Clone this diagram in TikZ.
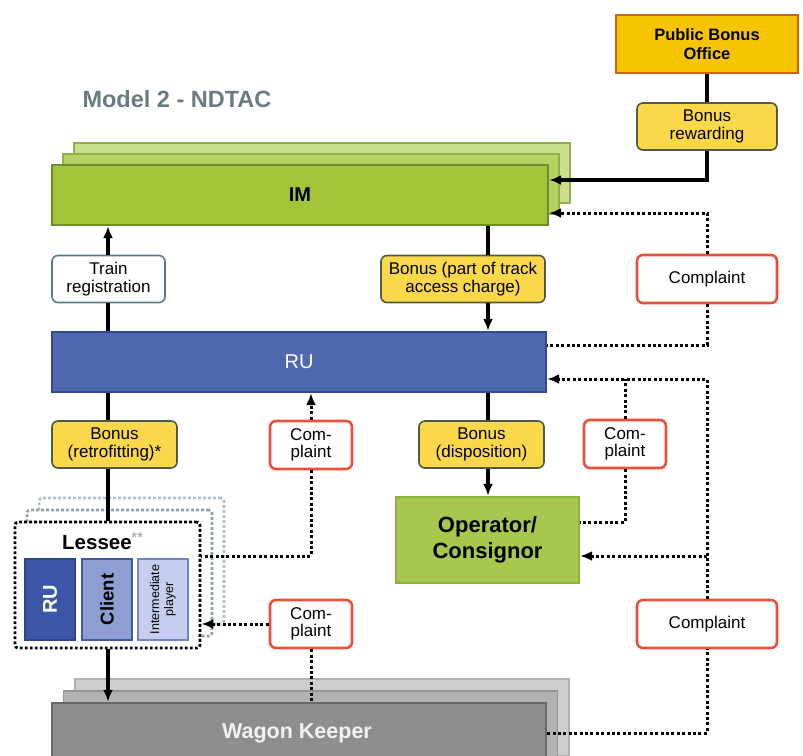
\documentclass[tikz,border=0pt]{standalone}
\usepackage{fontspec}
\setmainfont{Liberation Sans}
\usetikzlibrary{arrows.meta,calc}
\definecolor{imfill}{HTML}{A5C339}
\definecolor{imfillb}{HTML}{B7D164}
\definecolor{imfillc}{HTML}{CADF8E}
\definecolor{imdraw}{HTML}{6E8E2E}
\definecolor{imdrawb}{HTML}{8FB04A}
\definecolor{rufill}{HTML}{4F69B1}
\definecolor{rudraw}{HTML}{304A95}
\definecolor{yel}{HTML}{FAD84A}
\definecolor{yeldraw}{HTML}{4F5A44}
\definecolor{pbofill}{HTML}{F7C500}
\definecolor{pbodraw}{HTML}{C8641A}
\definecolor{opfill}{HTML}{A8C74E}
\definecolor{opdraw}{HTML}{8DB43A}
\definecolor{cpdraw}{HTML}{E8503A}
\definecolor{trdraw}{HTML}{5A7A8A}
\definecolor{wkfill}{HTML}{8E8E8E}
\definecolor{wkdraw}{HTML}{686868}
\definecolor{wkfillb}{HTML}{B2B2B2}
\definecolor{wkfillc}{HTML}{CDCDCD}
\definecolor{lsdraw}{HTML}{8EA0B4}
\definecolor{ruin}{HTML}{3B56A6}
\definecolor{ruindraw}{HTML}{2A4590}
\definecolor{clfill}{HTML}{8E9DD2}
\definecolor{cldraw}{HTML}{3F5BA8}
\definecolor{itfill}{HTML}{C5CEEE}
\definecolor{itdraw}{HTML}{6F86C6}
\definecolor{titlegray}{HTML}{6B7B82}
\begin{document}
\begin{tikzpicture}[x=1pt,y=-1pt,
  box/.style={inner sep=0pt, align=center},
  lbl/.style={box, rounded corners=6pt, line width=1.6pt, font=\fontsize{17}{17.5}\selectfont},
  yelbox/.style={lbl, fill=yel, draw=yeldraw},
  cpbox/.style={lbl, fill=white, draw=cpdraw, line width=2.6pt},
  sline/.style={line width=3.2pt, black},
  sarrow/.style={sline, -{Latex[length=12pt,width=10pt]}},
  dline/.style={line width=3pt, black, dash pattern=on 3pt off 2.4pt},
  darrow/.style={dline, -{Latex[length=12pt,width=10pt]}},
  lsdotted/.style={box, line width=2.8pt, dash pattern=on 2.8pt off 2.2pt, rounded corners=3pt}
]
\useasboundingbox (0,0) rectangle (803,755);
\clip (0,0) rectangle (803,755);

% title
\node[anchor=west, text=titlegray, font=\bfseries\fontsize{23.5}{26}\selectfont] (title) at (79,99) {Model 2 - NDTAC};

% Public bonus office
\node[box, fill=pbofill, draw=pbodraw, line width=2.8pt, minimum width=182pt, minimum height=58pt,
  font=\bfseries\fontsize{16.5}{19}\selectfont] (PBO) at (707,44) {Public Bonus\\Office};
\node[yelbox, minimum width=140pt, minimum height=47pt] (BR) at (707,126.5) {Bonus\\rewarding};

% IM stack
\node[box, fill=imfillc, draw=imdrawb, line width=1.8pt, minimum width=496pt, minimum height=60pt] (IM3) at (322,173) {};
\node[box, fill=imfillb, draw=imdrawb, line width=1.8pt, minimum width=496pt, minimum height=60pt] (IM2) at (311,184) {};
\node[box, fill=imfill, draw=imdraw, line width=2.4pt, minimum width=496pt, minimum height=60pt,
  font=\bfseries\fontsize{20}{22}\selectfont] (IM) at (300,195) {IM};

% labels between IM and RU
\node[lbl, fill=white, draw=trdraw, minimum width=113pt, minimum height=47pt] (TR) at (108.5,279) {Train\\registration};
\node[yelbox, minimum width=164pt, minimum height=47pt] (BT) at (463,279) {Bonus (part of track\\access charge)};
\node[cpbox, minimum width=140pt, minimum height=48pt] (CP1) at (707,279) {Complaint};

% RU
\node[box, fill=rufill, draw=rudraw, line width=2.4pt, minimum width=494pt, minimum height=60pt,
  text=white, font=\fontsize{20}{22}\selectfont] (RU) at (299,362) {RU};

% labels below RU
\node[yelbox, minimum width=125pt, minimum height=47pt] (BRF) at (114.5,444.5) {Bonus\\(retrofitting)*};
\node[cpbox, minimum width=82pt, minimum height=48pt] (CP2) at (311,445) {Com-\\plaint};
\node[yelbox, minimum width=125pt, minimum height=47pt] (BD) at (481.5,444.5) {Bonus\\(disposition)};
\node[cpbox, minimum width=82pt, minimum height=48pt] (CP3) at (625,444) {Com-\\plaint};

% Operator
\node[box, fill=opfill, draw=opdraw, line width=2.4pt, minimum width=183pt, minimum height=86pt,
  font=\bfseries\fontsize{22}{26}\selectfont] (OP) at (487.5,540) {Operator/\\Consignor};

% Lessee stack
\node[lsdotted, fill=white, draw=lsdraw!70, minimum width=185pt, minimum height=126pt] (LS3) at (131.5,561) {};
\node[lsdotted, fill=white, draw=lsdraw, minimum width=185pt, minimum height=126pt] (LS2) at (119.5,573) {};
\node[lsdotted, fill=white, draw=black, minimum width=185pt, minimum height=126pt] (LS) at (107.5,585) {};
\node[anchor=west, inner sep=0pt, font=\bfseries\fontsize{20.5}{22}\selectfont] (LStext) at (62,541)
  {Lessee\textsuperscript{\color{black!30}**}};
\node[box, fill=ruin, draw=ruindraw, line width=1.8pt, minimum width=50pt, minimum height=81pt] (RUi) at (50,599.5) {};
\node[rotate=90, text=white, font=\bfseries\fontsize{20}{22}\selectfont] (RUitext) at (RUi) {RU};
\node[box, fill=clfill, draw=cldraw, line width=1.8pt, minimum width=50pt, minimum height=81pt] (CL) at (107,599.5) {};
\node[rotate=90, font=\bfseries\fontsize{18.5}{20}\selectfont] (CLtext) at (CL) {Client};
\node[box, fill=itfill, draw=itdraw, line width=1.8pt, minimum width=50pt, minimum height=81pt] (IT) at (163,599.5) {};
\node[rotate=90, align=center, font=\fontsize{12.5}{14}\selectfont] (ITtext) at (IT) {Intermediate\\player};

% lower complaints
\node[cpbox, minimum width=82pt, minimum height=48pt] (CP4) at (311,624) {Com-\\plaint};
\node[cpbox, minimum width=140pt, minimum height=48pt] (CP5) at (707,624) {Complaint};

% Wagon keeper stack
\node[box, fill=wkfillc, draw=wkfillb, line width=1.8pt, minimum width=494pt, minimum height=77pt] (WK3) at (322,717.5) {};
\node[box, fill=wkfillb, draw=wkdraw!70, line width=1.8pt, minimum width=494pt, minimum height=77pt] (WK2) at (310.5,729.5) {};
\node[box, fill=wkfill, draw=wkdraw, line width=2.4pt, minimum width=494pt, minimum height=77pt] (WK) at (299,741.5) {};
\node[text=black!5, font=\bfseries\fontsize{21.5}{24}\selectfont] (WKtext) at (297,733) {Wagon Keeper};

% routing coordinates
\coordinate (xL) at (108,0);
\coordinate (xR) at (488,0);
\coordinate (y180) at (0,180);
\coordinate (y213) at (0,213);
\coordinate (y345) at (0,345);
\coordinate (y379) at (0,379);
\coordinate (y522) at (0,522);
\coordinate (y556) at (0,556);
\coordinate (y733) at (0,733);

% solid connectors
\draw[sline] (PBO.south) -- (BR.north);
\draw[sarrow] (BR.south) |- (IM.east |- y180);
\draw[sline] (RU.north -| xL) -- (TR.south -| xL);
\draw[sarrow] (TR.north -| xL) -- (IM.south -| xL);
\draw[sline] (IM.south -| xR) -- (BT.north -| xR);
\draw[sarrow] (BT.south -| xR) -- (RU.north -| xR);
\draw[sline] (RU.south -| xL) -- (BRF.north -| xL);
\draw[sline] (BRF.south -| xL) -- (LS.north -| xL);
\draw[sarrow] (LS.south -| xL) -- (WK.north -| xL);
\draw[sline] (RU.south -| xR) -- (BD.north -| xR);
\draw[sarrow] (BD.south -| xR) -- (OP.north -| xR);

% dotted connectors
\draw[darrow] (CP1.north) |- (IM.east |- y213);
\draw[dline] (CP1.south) |- (RU.east |- y345);
\draw[darrow] (CP2.north) -- (RU.south -| CP2.north);
\draw[dline] (CP2.south) |- (LS.east |- y556);
\draw[darrow] (CP5.north) |- (RU.east |- y379);
\draw[dline] (CP3.north) -- (CP3.north |- y379);
\draw[dline] (CP3.south) |- (OP.east |- y522);
\draw[darrow] (CP5.north |- y556) -- (OP.east |- y556);
\draw[darrow] (CP4.west) -- (LS.east |- CP4.west);
\draw[dline] (CP4.south) -- (WK.north -| CP4.south);
\draw[dline] (WK.east |- y733) -| (CP5.south);
\end{tikzpicture}
\end{document}
